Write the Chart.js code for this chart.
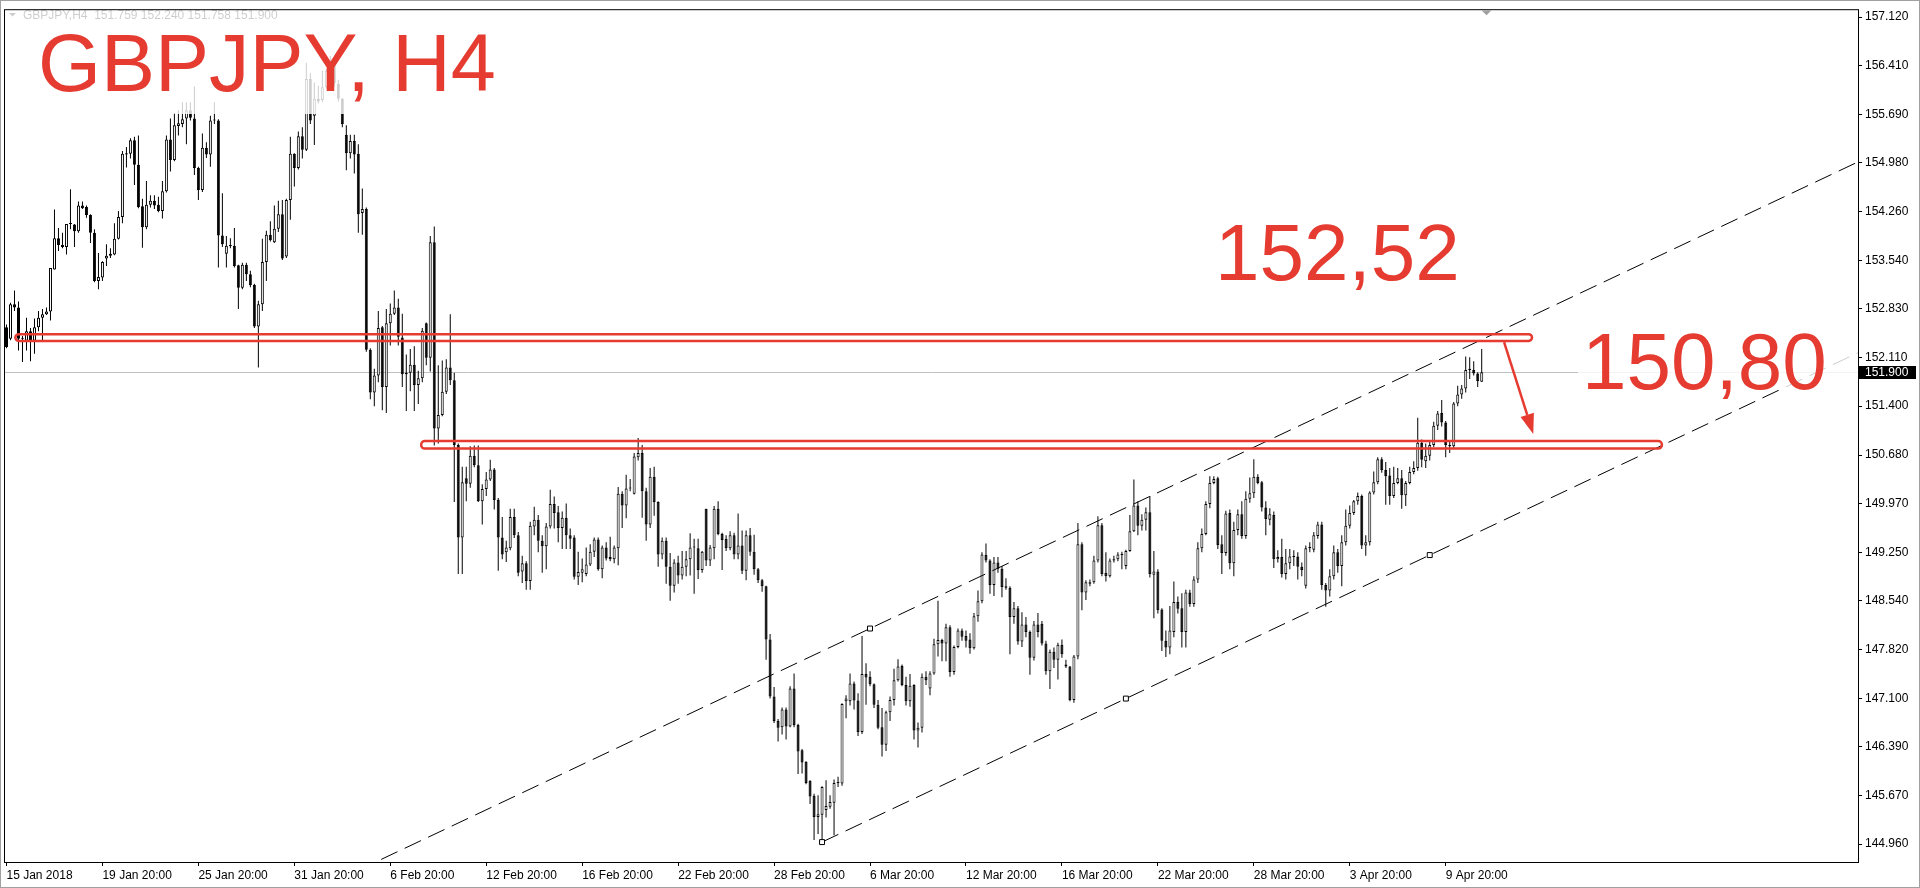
<!DOCTYPE html>
<html>
<head>
<meta charset="utf-8">
<title>GBPJPY, H4</title>
<script src="https://cdn.jsdelivr.net/npm/chart.js@4.4.1/dist/chart.umd.min.js"></script>
<style>
  html, body { margin: 0; padding: 0; background: #fff; overflow: hidden; }
  canvas { display: block; }
</style>
</head>
<body>
<canvas id="chart" width="1920" height="888"></canvas>
<script>
// H4 candles: [open, high, low, close]
const candles = [
  [152.56,152.60,152.25,152.27],[152.39,152.92,152.37,152.90],[152.90,153.10,152.80,152.85],[152.85,152.94,152.22,152.39],[152.39,152.43,152.05,152.40],
  [152.36,152.70,152.22,152.50],[152.50,152.55,152.06,152.36],[152.36,152.69,152.17,152.56],[152.56,152.80,152.50,152.70],[152.70,152.83,152.36,152.75],
  [152.75,152.85,152.74,152.79],[152.79,153.43,152.66,153.43],[153.41,154.29,153.41,153.87],[153.87,154.02,153.68,153.77],[153.77,153.95,153.72,153.74],
  [153.74,154.08,153.63,154.08],[154.08,154.59,154.00,154.09],[154.07,154.08,153.74,153.97],[153.97,154.41,153.95,154.35],[154.35,154.41,154.30,154.31],
  [154.33,154.35,154.17,154.21],[154.21,154.22,153.80,153.95],[153.95,154.00,153.22,153.24],[153.24,153.65,153.12,153.30],[153.29,153.53,153.24,153.52],
  [153.57,153.78,153.46,153.61],[153.61,153.72,153.58,153.64],[153.63,154.09,153.62,153.86],[153.86,154.27,153.85,154.18],[154.18,155.15,154.09,155.11],
  [155.10,155.21,154.91,155.12],[155.11,155.34,155.04,155.31],[155.31,155.36,154.65,154.95],[154.95,155.38,154.31,154.33],[154.34,154.45,153.73,154.03],
  [154.03,154.71,154.00,154.36],[154.36,154.50,154.32,154.42],[154.42,154.50,154.30,154.35],[154.36,154.48,154.25,154.27],[154.27,154.71,154.16,154.56],
  [154.56,155.38,154.54,155.32],[155.32,155.63,154.85,155.02],[155.02,155.71,155.00,155.53],[155.52,155.75,155.38,155.56],[155.55,155.87,155.50,155.62],
  [155.63,155.87,155.25,155.75],[155.75,155.87,155.60,155.64],[155.63,156.10,154.80,154.90],[154.90,154.92,154.43,154.58],[154.58,155.41,154.55,155.20],
  [155.20,155.28,155.05,155.10],[155.10,155.67,154.92,155.60],[155.60,155.87,155.55,155.61],[155.60,155.62,153.44,153.91],[153.91,154.53,153.74,153.78],
  [153.64,153.90,153.44,153.76],[153.77,153.87,153.72,153.75],[153.76,154.02,153.44,153.46],[153.47,153.48,152.83,153.14],[153.14,153.51,153.12,153.48],
  [153.48,153.51,153.24,153.34],[153.34,153.39,153.15,153.18],[153.18,153.20,152.55,152.57],[152.57,152.95,151.97,152.90],[152.90,153.86,152.80,153.52],
  [153.52,153.98,153.24,153.92],[153.92,154.12,153.82,153.84],[153.81,154.35,153.80,154.01],[154.01,154.42,153.96,154.22],[154.22,154.43,153.55,153.57],
  [153.60,154.45,153.58,154.43],[154.43,155.36,154.14,155.11],[155.11,155.12,154.63,154.90],[154.90,155.44,154.88,155.37],[155.37,155.50,155.04,155.17],
  [155.17,156.45,155.15,156.21],[156.21,156.30,155.55,155.60],[155.67,156.16,155.24,155.92],[155.92,156.11,155.85,155.88],[155.90,156.33,155.87,156.09],
  [156.09,156.36,156.07,156.33],[156.33,156.55,156.25,156.40],[156.40,156.45,156.10,156.15],[156.14,156.20,155.88,155.92],[155.92,155.93,155.50,155.55],
  [155.39,155.53,154.87,155.12],[155.12,155.39,155.04,155.30],[155.30,155.39,154.82,155.10],[155.11,155.25,153.95,154.22],[154.24,154.60,153.92,154.30],
  [154.30,154.32,152.20,152.23],[152.23,152.25,151.50,151.60],[151.60,151.95,151.40,151.85],[151.85,152.80,151.75,152.55],[152.56,152.58,151.34,151.68],
  [151.68,152.83,151.30,152.62],[152.62,152.91,152.29,152.76],[152.76,153.10,152.74,152.85],[152.85,152.98,152.29,152.42],[152.41,152.76,151.68,151.87],
  [151.89,152.16,151.33,151.87],[151.89,152.24,151.62,152.01],[152.01,152.28,151.33,151.71],[151.71,151.92,151.43,151.81],[151.81,152.55,151.75,152.51],
  [152.62,152.63,152.00,152.11],[152.11,153.90,151.91,153.81],[153.81,154.04,150.82,151.07],[151.07,152.00,150.85,151.27],[151.27,152.07,151.25,151.61],
  [151.61,152.09,151.58,151.97],[151.97,152.75,151.71,151.78],[151.78,151.89,149.99,150.83],[150.83,150.85,148.93,149.47],[149.47,150.51,148.93,150.28],
  [150.34,150.51,150.00,150.26],[150.26,150.81,150.20,150.67],[150.67,150.82,150.50,150.53],[150.53,150.82,149.99,150.00],[150.00,150.25,149.66,150.18],
  [150.18,150.43,150.08,150.32],[150.32,150.61,150.30,150.47],[150.47,150.49,149.88,150.02],[150.02,150.05,148.98,149.47],[149.47,149.77,149.15,149.22],
  [149.25,149.42,149.11,149.32],[149.31,149.89,149.28,149.77],[149.77,149.89,149.46,149.50],[149.50,149.55,148.90,148.95],[148.97,149.20,148.80,149.09],
  [149.09,149.12,148.70,148.83],[148.83,149.70,148.70,149.64],[149.63,149.92,149.50,149.73],[149.73,149.80,149.25,149.42],[149.42,149.50,148.95,149.34],
  [149.34,149.68,149.00,149.63],[149.63,150.17,149.60,149.96],[149.96,150.07,149.60,149.83],[149.84,149.93,149.40,149.61],[149.61,149.85,149.30,149.76],
  [149.76,149.97,149.30,149.50],[149.50,149.60,149.30,149.45],[149.47,149.50,148.85,148.89],[148.89,149.26,148.77,148.96],[148.95,149.16,148.81,149.00],
  [148.93,149.32,148.90,149.07],[149.07,149.37,149.05,149.26],[149.26,149.47,149.18,149.44],[149.44,149.47,148.98,149.00],[149.00,149.35,148.87,149.32],
  [149.32,149.40,149.13,149.16],[149.18,149.48,149.12,149.15],[149.15,149.35,149.09,149.32],[149.31,150.21,149.06,150.11],[150.11,150.15,149.61,149.94],
  [149.94,150.39,149.75,150.19],[150.19,150.33,150.15,150.20],[150.11,150.71,150.10,150.66],[150.65,150.93,150.60,150.71],[150.71,150.83,149.76,150.15],
  [150.15,150.20,149.42,149.66],[149.66,150.49,149.61,150.36],[150.36,150.51,149.79,149.99],[149.99,150.00,149.04,149.22],[149.22,149.47,149.15,149.42],
  [149.42,149.47,148.79,149.04],[149.04,149.24,148.54,148.76],[148.76,149.15,148.66,149.10],[149.10,149.20,148.79,148.91],[148.91,149.27,148.85,149.04],
  [149.04,149.27,148.90,149.15],[149.15,149.53,148.91,149.32],[149.32,149.45,148.64,149.33],[149.31,149.45,148.86,148.99],[148.99,149.27,148.95,149.26],
  [149.89,149.89,149.05,149.13],[149.13,149.36,149.05,149.32],[149.31,149.93,149.15,149.89],[149.89,150.00,149.50,149.52],[149.52,149.54,148.99,149.43],
  [149.45,149.50,149.27,149.31],[149.31,149.56,149.28,149.50],[149.50,149.54,149.15,149.22],[149.22,149.82,149.15,149.35],[149.35,149.57,148.93,148.98],
  [148.98,149.57,148.84,149.50],[149.50,149.61,149.20,149.26],[149.26,149.51,148.92,149.00],[149.00,149.02,148.80,148.84],[148.84,148.86,148.67,148.75],
  [148.75,148.76,147.67,147.97],[147.97,148.05,147.10,147.13],[147.13,147.27,146.74,146.77],[146.77,146.80,146.47,146.67],[146.68,146.97,146.57,146.94],
  [146.94,146.97,146.50,146.69],[146.69,147.28,146.68,147.25],[147.25,147.47,146.68,146.71],[146.71,146.73,145.99,146.32],[146.34,146.36,146.00,146.16],
  [146.17,146.18,145.84,145.86],[145.89,145.90,145.55,145.66],[145.67,145.70,145.02,145.36],[145.36,145.68,145.11,145.40],[145.39,145.81,144.99,145.80],
  [145.46,145.90,145.35,145.52],[145.51,145.68,145.48,145.58],[145.57,145.91,145.09,145.86],[145.86,145.95,145.80,145.87],[145.85,147.03,145.82,147.02],
  [147.06,147.15,146.81,147.10],[147.06,147.47,147.00,147.32],[147.32,147.35,146.94,147.07],[147.07,147.18,146.55,146.61],[146.61,148.02,146.58,147.46],
  [147.46,147.62,147.01,147.41],[147.42,147.50,147.28,147.31],[147.31,147.32,146.96,147.01],[147.01,147.08,146.65,146.67],[146.68,146.96,146.25,146.42],
  [146.42,146.92,146.33,146.90],[146.90,147.13,146.77,147.08],[147.08,147.54,147.00,147.37],[147.37,147.68,147.35,147.57],[147.58,147.60,147.28,147.30],
  [147.30,147.42,147.00,147.06],[147.06,147.46,146.98,147.29],[147.30,147.31,146.50,146.63],[146.63,146.75,146.38,146.67],[146.67,147.47,146.60,147.42],
  [147.42,147.50,147.30,147.37],[147.25,147.50,147.15,147.47],[147.47,147.98,147.45,147.90],[147.90,148.54,147.72,147.96],[147.96,147.98,147.65,147.91],
  [147.91,148.20,147.65,148.15],[148.15,148.18,147.42,147.49],[147.49,147.88,147.45,147.86],[147.86,148.13,147.84,148.10],[148.10,148.13,147.95,148.01],
  [148.02,148.10,147.85,147.95],[147.97,148.06,147.76,147.84],[147.84,148.36,147.82,148.31],[148.31,148.69,148.23,148.53],[148.53,149.25,148.50,149.22],
  [149.21,149.38,149.10,149.13],[149.13,149.15,148.64,148.77],[148.77,149.18,148.61,149.10],[149.10,149.18,148.95,149.01],[149.01,149.05,148.59,148.74],
  [148.75,148.87,148.70,148.73],[148.73,148.75,147.75,148.30],[148.30,148.52,148.20,148.43],[148.43,148.46,147.89,147.94],[147.94,148.37,147.86,148.19],
  [148.19,148.30,148.00,148.08],[148.08,148.10,147.45,147.70],[147.70,148.24,147.66,148.19],[148.19,148.36,148.00,148.08],[148.20,148.24,147.88,147.91],
  [147.91,147.95,147.45,147.50],[147.50,147.82,147.24,147.79],[147.79,147.85,147.55,147.67],[147.67,147.92,147.38,147.89],[147.89,147.97,147.70,147.75],
  [147.60,147.67,147.55,147.57],[147.57,147.58,147.06,147.08],[147.08,147.74,147.04,147.72],[147.72,149.68,147.68,149.37],[149.37,149.40,148.40,148.66],
  [148.66,148.84,148.55,148.81],[148.79,148.85,148.75,148.81],[148.81,149.20,148.79,149.13],[149.13,149.78,149.10,149.65],[149.65,149.68,148.90,148.93],
  [148.95,149.25,148.82,148.90],[148.90,149.16,148.88,149.13],[149.13,149.20,149.10,149.15],[149.15,149.25,149.12,149.22],[149.22,149.26,149.00,149.21],
  [149.05,149.29,149.00,149.27],[149.27,149.80,149.26,149.56],[149.56,150.32,149.55,149.94],[149.94,150.00,149.50,149.64],[149.64,149.81,149.57,149.73],
  [149.73,149.91,149.57,149.84],[149.84,150.08,148.88,148.93],[148.92,149.27,148.28,148.97],[148.97,149.00,148.35,148.40],[148.41,148.43,147.80,147.95],
  [147.95,148.10,147.71,147.85],[147.85,148.46,147.75,148.10],[148.08,148.82,148.00,148.52],[148.52,148.60,148.35,148.42],[148.43,148.65,147.85,148.08],
  [148.08,148.70,147.85,148.66],[148.66,148.70,148.45,148.49],[148.49,148.90,148.45,148.85],[148.85,149.40,148.80,149.31],[149.31,149.60,149.25,149.52],
  [149.52,150.00,149.50,149.96],[149.96,150.37,149.90,150.27],[150.27,150.37,150.25,150.33],[150.34,150.36,149.30,149.36],[149.37,149.50,148.93,149.24],
  [149.24,149.86,149.20,149.82],[149.83,149.88,149.00,149.09],[149.09,149.70,148.90,149.58],[149.58,149.88,149.50,149.81],[149.81,150.00,149.45,149.49],
  [149.49,150.15,149.45,150.04],[150.04,150.35,149.98,150.12],[150.12,150.62,150.05,150.36],[150.36,150.40,150.25,150.27],[150.28,150.30,149.85,149.91],
  [149.91,150.00,149.50,149.74],[149.73,149.90,149.65,149.81],[149.80,149.85,149.02,149.15],[149.15,149.28,149.10,149.18],[149.18,149.45,148.88,148.93],
  [148.93,149.30,148.85,149.09],[149.09,149.30,149.00,149.19],[149.19,149.28,149.05,149.18],[149.19,149.25,148.85,149.04],[149.04,149.10,148.90,148.99],
  [148.76,149.35,148.72,149.31],[149.31,149.40,149.25,149.33],[149.29,149.55,149.25,149.50],[149.49,149.70,149.45,149.66],[149.66,149.70,148.70,148.77],
  [148.77,148.80,148.45,148.69],[148.69,149.00,148.60,148.90],[148.90,149.35,148.85,149.25],[149.25,149.30,148.95,149.05],[149.05,149.50,148.75,149.40],
  [149.40,149.88,149.35,149.64],[149.64,149.94,149.60,149.83],[149.83,150.02,149.80,150.00],[150.00,150.13,149.95,150.08],[150.08,150.10,149.30,149.35],
  [149.35,149.50,149.20,149.40],[149.40,150.15,149.35,150.13],[150.13,150.44,150.10,150.28],[150.28,150.65,150.25,150.62],[150.62,150.65,150.42,150.46],
  [150.46,150.58,149.95,150.37],[150.38,150.49,149.95,150.08],[150.08,150.51,150.05,150.27],[150.27,150.49,150.25,150.34],[150.34,150.46,149.89,150.09],
  [150.09,150.30,149.93,150.27],[150.27,150.51,150.25,150.43],[150.43,150.59,150.40,150.49],[150.49,151.23,150.45,150.86],[150.86,150.91,150.50,150.61],
  [150.59,150.85,150.49,150.67],[150.67,150.90,150.60,150.83],[150.83,151.17,150.80,151.11],[151.11,151.33,151.05,151.29],[151.30,151.49,151.10,151.16],
  [151.16,151.18,150.65,150.83],[150.81,150.90,150.71,150.83],[150.81,151.46,150.78,151.44],[151.44,151.70,151.40,151.57],[151.57,151.71,151.51,151.66],
  [151.66,152.13,151.60,151.93],[151.93,152.12,151.80,151.95],[151.93,152.06,151.85,151.88],[151.88,151.90,151.68,151.77],[151.759,152.240,151.758,151.900]
];

const timeLabels = ['15 Jan 2018', '19 Jan 20:00', '25 Jan 20:00', '31 Jan 20:00', '6 Feb 20:00', '12 Feb 20:00',
  '16 Feb 20:00', '22 Feb 20:00', '28 Feb 20:00', '6 Mar 20:00', '12 Mar 20:00', '16 Mar 20:00',
  '22 Mar 20:00', '28 Mar 20:00', '3 Apr 20:00', '9 Apr 20:00'];
const barsPerLabel = 24;

const priceTicks = [157.12, 156.41, 155.69, 154.98, 154.26, 153.54, 152.83, 152.11, 151.40,
  150.68, 149.97, 149.25, 148.54, 147.82, 147.10, 146.39, 145.67, 144.96];
const priceMin = 144.697, priceMax = 157.222;
const barMin = -0.375, barMax = 463.125;

// equidistant channel: start, end and the point the parallel line passes through
const channelStart = [204, 144.99];
const channelEnd = [356, 149.21];
const channelParallel = [216, 148.13];

// level boxes: [fromBar, toBar, upper price, lower price]
const zones = [[1.9, 381.9, 152.476, 152.34], [103.4, 414.4, 150.906, 150.757]];
const arrowFrom = [374.6, 152.34];
const arrowTo = [381.9, 150.99];

const symbolInfo = 'GBPJPY,H4  151.759 152.240 151.758 151.900';
const titleText = 'GBPJPY, H4';
const levelLabels = ['152,52', '150,80'];

const RED = '#E53B30';
const FONT = "'Liberation Sans', Arial, sans-serif";

const slope = (channelEnd[1] - channelStart[1]) / (channelEnd[0] - channelStart[0]);
const lowerAt = b => channelStart[1] + slope * (b - channelStart[0]);
const upperShift = channelParallel[1] - lowerAt(channelParallel[0]);
const lastClose = candles[candles.length - 1][3];

const wickData = candles.map((c, i) => ({ x: i, y: [c[2], c[1]] }));
const bodyData = candles.map((c, i) => ({ x: i, y: [Math.min(c[0], c[3]), Math.max(c[0], c[3])] }));
const bodyColors = candles.map(c => (c[3] >= c[0] ? '#ffffff' : '#000000'));

const lowerLine = [
  { x: channelStart[0], y: channelStart[1] },
  { x: barMax, y: lowerAt(barMax) }
];
const upperLine = [
  { x: barMin, y: lowerAt(barMin) + upperShift },
  { x: barMax, y: lowerAt(barMax) + upperShift }
];
const anchors = [
  { x: channelStart[0], y: channelStart[1] },
  { x: (channelStart[0] + channelEnd[0]) / 2, y: (channelStart[1] + channelEnd[1]) / 2 },
  { x: channelEnd[0], y: channelEnd[1] },
  { x: channelParallel[0], y: channelParallel[1] }
];

// terminal-style extras: price line, objects, labels, frame
const mtOverlay = {
  id: 'mtOverlay',
  beforeDatasetsDraw(chart) {
    const { ctx, chartArea: a, scales: { y } } = chart;
    const py = Math.round(y.getPixelForValue(lastClose)) + 0.5;
    ctx.save();
    ctx.strokeStyle = '#c0c0c0';
    ctx.lineWidth = 1;
    ctx.beginPath();
    ctx.moveTo(a.left, py);
    ctx.lineTo(a.right, py);
    ctx.stroke();
    ctx.restore();
  },
  afterDatasetsDraw(chart) {
    const { ctx, chartArea: a, scales: { x, y } } = chart;
    ctx.save();

    // rectangles round the two levels
    ctx.strokeStyle = RED;
    ctx.lineWidth = 2.5;
    zones.forEach(z => {
      const x1 = x.getPixelForValue(z[0]), x2 = x.getPixelForValue(z[1]);
      const y1 = y.getPixelForValue(z[2]), y2 = y.getPixelForValue(z[3]);
      const h = y2 - y1 - 2.5;
      ctx.beginPath();
      ctx.roundRect(x1 + 1.25, y1 + 1.25, x2 - x1 - 2.5, h, h / 2);
      ctx.stroke();
    });

    // arrow
    const ax1 = x.getPixelForValue(arrowFrom[0]), ay1 = y.getPixelForValue(arrowFrom[1]);
    const ax2 = x.getPixelForValue(arrowTo[0]), ay2 = y.getPixelForValue(arrowTo[1]);
    const ang = Math.atan2(ay2 - ay1, ax2 - ax1);
    const head = 20, half = 7;
    const bx = ax2 - head * Math.cos(ang), by = ay2 - head * Math.sin(ang);
    ctx.beginPath();
    ctx.moveTo(ax1, ay1);
    ctx.lineTo(bx, by);
    ctx.stroke();
    ctx.fillStyle = RED;
    ctx.beginPath();
    ctx.moveTo(ax2, ay2);
    ctx.lineTo(bx + half * Math.sin(ang), by - half * Math.cos(ang));
    ctx.lineTo(bx - half * Math.sin(ang), by + half * Math.cos(ang));
    ctx.closePath();
    ctx.fill();

    // symbol line, top left
    ctx.fillStyle = '#000';
    ctx.beginPath();
    ctx.moveTo(9, 13); ctx.lineTo(16, 13); ctx.lineTo(12.5, 16.5);
    ctx.closePath();
    ctx.fill();
    ctx.font = '12px ' + FONT;
    ctx.textAlign = 'left';
    ctx.textBaseline = 'alphabetic';
    ctx.fillText(symbolInfo, 23, 18.5);

    // text objects have a pale backing that washes out what lies under them
    ctx.fillStyle = 'rgba(255,255,255,0.8)';
    ctx.fillRect(5, 5, 495, 109);
    ctx.fillRect(1578, 322, a.right - 1578, 68);

    ctx.fillStyle = RED;
    ctx.font = '81px ' + FONT;
    ctx.fillText(titleText, 38, 91);
    ctx.font = '80px ' + FONT;
    ctx.fillText(levelLabels[0], 1215, 280);
    ctx.fillText(levelLabels[1], 1582, 389);

    // chart frame
    ctx.strokeStyle = '#000';
    ctx.lineWidth = 1;
    ctx.strokeRect(a.left - 0.5, a.top - 0.5, a.right - a.left + 1, a.bottom - a.top + 1);
    ctx.restore();
  },
  afterDraw(chart) {
    const { ctx, chartArea: a, scales: { x, y } } = chart;
    ctx.save();
    // last price tag on the axis
    const py = Math.round(y.getPixelForValue(lastClose));
    ctx.fillStyle = '#000';
    ctx.fillRect(a.right + 1, py - 6, 57, 13);
    ctx.fillStyle = '#fff';
    ctx.font = '12px ' + FONT;
    ctx.textAlign = 'left';
    ctx.textBaseline = 'middle';
    ctx.fillText(lastClose.toFixed(3), a.right + 7, py + 0.5);
    // chart shift marker
    const sx = Math.round(x.getPixelForValue(candles.length)) + 0.5;
    ctx.fillStyle = '#a0a0a0';
    ctx.beginPath();
    ctx.moveTo(sx - 5, a.top); ctx.lineTo(sx + 5, a.top); ctx.lineTo(sx, a.top + 5);
    ctx.closePath();
    ctx.fill();
    // window edge
    ctx.strokeStyle = '#a0a0a0';
    ctx.strokeRect(0.5, 0.5, chart.width - 1, chart.height - 1);
    ctx.restore();
  }
};

const axisFont = { family: FONT, size: 12 };

new Chart(document.getElementById('chart'), {
  type: 'bar',
  data: {
    datasets: [
      {
        type: 'line', label: 'anchors', data: anchors, showLine: false,
        pointStyle: 'rect', pointRadius: 3.5, pointBackgroundColor: '#fff',
        pointBorderColor: '#000', pointBorderWidth: 1, order: 0
      },
      {
        type: 'line', label: 'upper', data: upperLine, borderColor: '#000', borderWidth: 1,
        borderDash: [18, 8], pointRadius: 0, order: 1
      },
      {
        type: 'line', label: 'lower', data: lowerLine, borderColor: '#000', borderWidth: 1,
        borderDash: [18, 8], pointRadius: 0, order: 1
      },
      {
        label: 'body', data: bodyData, backgroundColor: bodyColors, borderColor: '#000',
        borderWidth: 1, borderSkipped: false, barThickness: 3, minBarLength: 1,
        grouped: false, inflateAmount: 0, order: 2
      },
      {
        label: 'wick', data: wickData, backgroundColor: '#000', borderWidth: 0,
        barThickness: 1, minBarLength: 1, grouped: false, inflateAmount: 0, order: 3
      }
    ]
  },
  options: {
    responsive: false,
    animation: false,
    devicePixelRatio: 1,
    events: [],
    layout: { padding: { left: 4, top: 4, right: 0, bottom: 0 } },
    plugins: {
      legend: { display: false },
      tooltip: { enabled: false },
      title: { display: false }
    },
    scales: {
      x: {
        type: 'linear',
        position: 'bottom',
        min: barMin,
        max: barMax,
        bounds: 'data',
        offset: false,
        grid: { display: true, drawOnChartArea: false, offset: false, tickLength: 4, color: '#000', tickColor: '#000' },
        border: { display: false },
        ticks: {
          autoSkip: false, maxRotation: 0, align: 'start', padding: 2,
          color: '#000', font: axisFont,
          callback: (v, i) => timeLabels[i]
        },
        afterBuildTicks: ax => { ax.ticks = timeLabels.map((_, i) => ({ value: i * barsPerLabel })); },
        afterFit: ax => { ax.height = 26; }
      },
      y: {
        type: 'linear',
        position: 'right',
        min: priceMin,
        max: priceMax,
        bounds: 'data',
        beginAtZero: false,
        grid: { drawOnChartArea: false, tickLength: 4, color: '#000', tickColor: '#000' },
        border: { display: false },
        ticks: {
          autoSkip: false, padding: 3, color: '#000', font: axisFont,
          callback: v => Number(v).toFixed(3)
        },
        afterBuildTicks: ax => { ax.ticks = priceTicks.map(v => ({ value: v })); },
        afterFit: ax => { ax.width = 62; }
      }
    }
  },
  plugins: [mtOverlay]
});
</script>
</body>
</html>
